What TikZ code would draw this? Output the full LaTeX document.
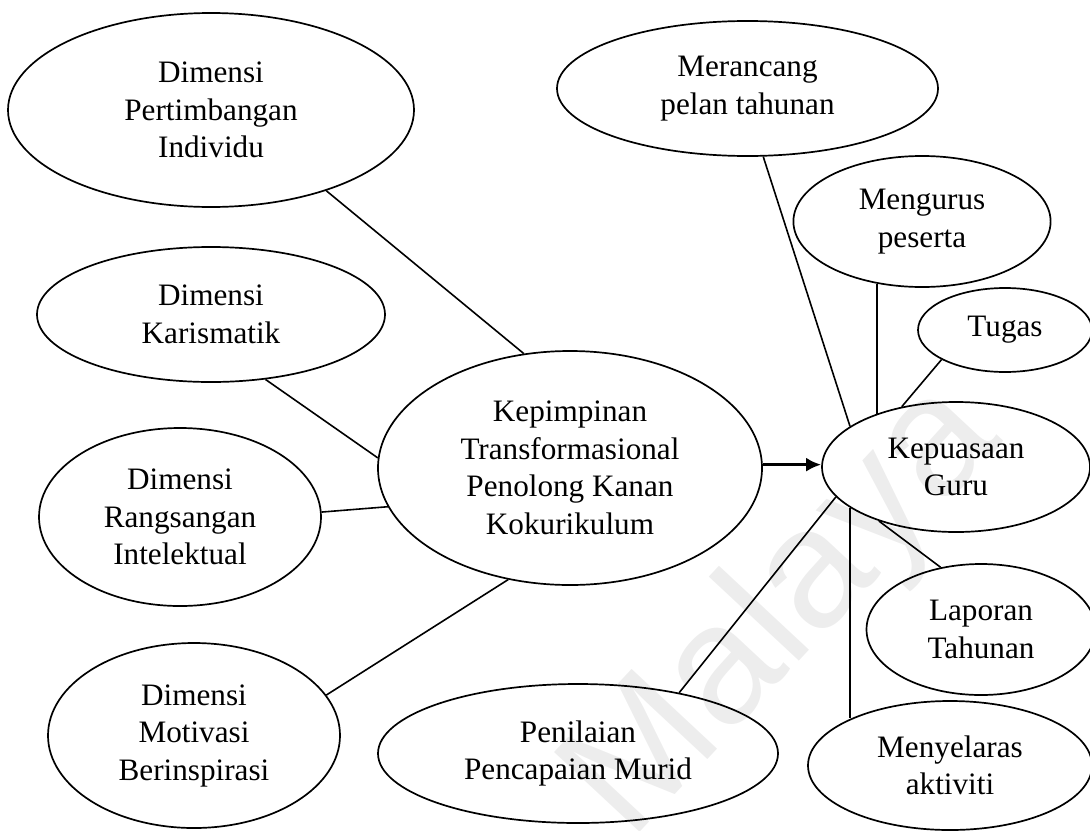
\documentclass[tikz,border=0pt]{standalone}
\usepackage{fontspec}
\setmainfont{Liberation Serif}
\newfontfamily\wmfont{Liberation Sans}
\usetikzlibrary{shapes.geometric,arrows.meta}

\begin{document}
\begin{tikzpicture}[x=0.5pt,y=-0.5pt,
  bubble/.style={draw,ellipse,line width=0.85pt,inner sep=0pt,align=center,
    font=\fontsize{15.6}{18.75}\selectfont},
  link/.style={line width=0.8pt},
  flow/.style={line width=1.5pt,-{Latex[length=7.5pt,width=7pt]}},
  wm/.style={text=black!7,font=\wmfont\fontsize{85}{85}\selectfont,inner sep=0pt}
]
\useasboundingbox (0,0) rectangle (1090,830);

% faint background mark
\node[wm,rotate=47] (mark) at (785,612) {Malaya};

% leadership dimensions
\node[bubble,minimum width=203pt,minimum height=97pt]   (pi) at (211,110)   {Dimensi\\Pertimbangan\\Individu};
\node[bubble,minimum width=174pt,minimum height=67.5pt] (ka) at (211,314.5) {Dimensi\\Karismatik};
\node[bubble,minimum width=141pt,minimum height=89pt]   (ri) at (180,517)   {Dimensi\\Rangsangan\\Intelektual};
\node[bubble,minimum width=146pt,minimum height=92.5pt] (mb) at (194,735.5) {Dimensi\\Motivasi\\Berinspirasi};

% central construct
\node[bubble,minimum width=192pt,minimum height=117pt]  (kp) at (570,468)   {Kepimpinan\\Transformasional\\Penolong Kanan\\Kokurikulum};

% outcome and its facets
\node[bubble,minimum width=134pt,minimum height=65pt]   (kg) at (956,467)   {Kepuasaan\\Guru};
\node[bubble,minimum width=190.5pt,minimum height=67.5pt] (mr) at (747.5,88.5) {Merancang\\pelan tahunan};
\node[bubble,minimum width=128.6pt,minimum height=65.5pt] (mg) at (922,221.5) {Mengurus\\peserta};
\node[bubble,minimum width=87pt,minimum height=42pt]    (tg) at (1005,330)  {Tugas};
\node[bubble,minimum width=114.5pt,minimum height=65.5pt] (lt) at (981,629.5) {Laporan\\Tahunan};
\node[bubble,minimum width=142pt,minimum height=64.5pt] (ma) at (950,765.5) {Menyelaras\\aktiviti};
\node[bubble,minimum width=200pt,minimum height=69.5pt] (pm) at (578,753.5) {Penilaian\\Pencapaian Murid};

% dimensions to the central construct
\draw[link] (pi.-35.7) -- (kp.112.9);
\draw[link] (ka.-50.7) -- (kp.177.5);
\draw[link] (ri.2.8)   -- (kp.192.9);
\draw[link] (mb.17.8)  -- (kp.-119);

% main effect
\draw[flow] (kp.1.5) -- (kp.1.5 -| kg.west);

% facets of satisfaction
\draw[link] (mr.-77.8) -- (kg.159.8);
\draw[link] (mg.-126)  -- (mg.-126 |- kg.146.3);
\draw[link] (tg.205.7) -- (kg.132.1);
\draw[link] (kg.194)   -- (pm.31.3);
\draw[link] (kg.-145.1) -- (lt.123.5);
\draw[link] (kg.-159)  -- (kg.-159 |- ma.154.1);
\end{tikzpicture}
\end{document}
